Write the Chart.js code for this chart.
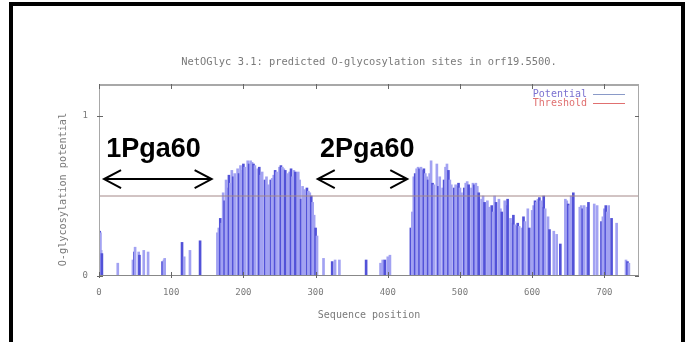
<!DOCTYPE html>
<html>
<head>
<meta charset="utf-8">
<script src="https://cdn.jsdelivr.net/npm/chart.js@4.4.1/dist/chart.umd.min.js"></script>
<style>
  body { margin: 0; background: #fff; }
  #wrap { position: relative; width: 693px; height: 342px; overflow: hidden; }
  #frame { position: absolute; left: 9px; top: 2px; width: 668px; height: 400px; border: 4px solid #000; pointer-events: none; }
</style>
</head>
<body>
<div id="wrap">
  <canvas id="glycoChart" width="693" height="342"></canvas>
  <div id="frame"></div>
</div>
<script>
// sequence positions with a predicted potential
const sitePositions = [
  1, 2, 3, 4, 26, 47, 49, 50, 55, 56, 62, 68, 88, 90, 91, 115, 118, 126, 140,
  164, 166, 168, 170, 172, 174, 176, 178, 180, 182, 184, 186, 188,
  192, 194, 196, 198, 200, 202, 206, 208, 210, 212, 214, 216,
  220, 222, 224, 226, 230, 232, 234, 238, 240, 242, 244, 246,
  250, 252, 254, 256, 258, 262, 264, 266, 268, 270, 272,
  276, 278, 280, 282, 284, 288, 290, 292, 294, 296, 298, 300, 302,
  311, 323, 327, 333, 370, 390, 393, 396, 400, 403,
  432, 434, 436, 438, 440, 442, 444, 446, 448, 450, 452, 454, 456, 458, 460, 462, 464,
  468, 470, 472, 476, 478, 480, 482, 484, 486, 488,
  492, 494, 496, 498, 500, 502, 506, 508, 510, 512,
  516, 518, 520, 522, 524, 526, 530, 532, 534, 538, 540,
  544, 546, 548, 550, 554, 556, 558, 562, 564, 566,
  570, 572, 574, 576, 578, 580, 582, 586, 588, 590, 594, 596,
  600, 602, 604, 606, 608, 610, 612, 614, 616, 618, 622, 624,
  630, 634, 639, 646, 648, 650, 652, 654, 657,
  666, 668, 670, 672, 676, 678, 686, 690,
  696, 698, 700, 702, 704, 706, 710, 717, 730, 732, 734
];
const sitePotentials = [
  0.28, 0.27, 0.16, 0.14, 0.08, 0.10, 0.15, 0.18, 0.15, 0.13, 0.16, 0.15, 0.09, 0.10, 0.11, 0.21, 0.12, 0.16, 0.22,
  0.27, 0.30, 0.36, 0.33, 0.52, 0.47, 0.60, 0.55, 0.63, 0.58, 0.66, 0.62, 0.64,
  0.67, 0.64, 0.69, 0.66, 0.70, 0.68, 0.72, 0.70, 0.72, 0.71, 0.70, 0.69,
  0.67, 0.68, 0.63, 0.65, 0.60, 0.62, 0.57, 0.60, 0.61, 0.63, 0.66, 0.65,
  0.68, 0.69, 0.68, 0.67, 0.66, 0.64, 0.65, 0.67, 0.62, 0.66, 0.65,
  0.65, 0.60, 0.48, 0.56, 0.54, 0.55, 0.53, 0.52, 0.50, 0.46, 0.38, 0.30, 0.25,
  0.11, 0.09, 0.10, 0.10, 0.10, 0.08, 0.10, 0.10, 0.12, 0.13,
  0.30, 0.40, 0.62, 0.64, 0.67, 0.68, 0.67, 0.68, 0.66, 0.67, 0.64, 0.62, 0.60, 0.64, 0.72, 0.58, 0.57,
  0.70, 0.56, 0.62, 0.55, 0.60, 0.68, 0.70, 0.66, 0.60, 0.57,
  0.55, 0.57, 0.56, 0.58, 0.55, 0.52, 0.55, 0.58, 0.59, 0.57,
  0.55, 0.58, 0.57, 0.58, 0.56, 0.52, 0.48, 0.50, 0.46, 0.47, 0.43,
  0.44, 0.40, 0.50, 0.46, 0.48, 0.42, 0.40, 0.47, 0.44, 0.48,
  0.36, 0.33, 0.38, 0.32, 0.31, 0.33, 0.31, 0.30, 0.37, 0.34, 0.42, 0.30,
  0.41, 0.44, 0.47, 0.46, 0.48, 0.49, 0.47, 0.43, 0.50, 0.42, 0.37, 0.29,
  0.28, 0.26, 0.20, 0.48, 0.47, 0.45, 0.44, 0.50, 0.52,
  0.43, 0.44, 0.42, 0.44, 0.43, 0.46, 0.45, 0.44,
  0.34, 0.37, 0.42, 0.44, 0.40, 0.44, 0.36, 0.33, 0.10, 0.09, 0.08
];
const thresholdValue = 0.5;
const seqLength = 748;
const xTickValues = [0, 100, 200, 300, 400, 500, 600, 700];
const yTickValues = [0, 1];

// overlay annotations (regions marked on the plot)
const regionLabels = ["1Pga60", "2Pga60"];
const regionStarts = [7, 303];
const regionEnds = [156, 427];

const chartTitle = "NetOGlyc 3.1: predicted O-glycosylation sites in orf19.5500.";
const yTitle = "O-glycosylation potential";
const grey = "#7a7a7a";
const monoFont = "'DejaVu Sans Mono', monospace";

// gnuplot style box, inner ticks, titles, legend and the hand drawn annotations
const plotExtras = {
  id: "plotExtras",
  afterDraw(chart) {
    const { ctx, chartArea } = chart;
    const xs = chart.scales.x;
    const ys = chart.scales.y;
    ctx.save();
    // box
    ctx.strokeStyle = "#a8a8a8";
    ctx.lineWidth = 1;
    ctx.strokeRect(chartArea.left + 0.5, chartArea.top + 0.5, chartArea.width - 1, chartArea.height - 1);
    ctx.lineWidth = 2;
    ctx.beginPath();
    ctx.moveTo(chartArea.left, chartArea.top + 1);
    ctx.lineTo(chartArea.right, chartArea.top + 1);
    ctx.stroke();
    ctx.strokeStyle = "#888";
    ctx.lineWidth = 1;
    ctx.beginPath();
    ctx.moveTo(chartArea.left, chartArea.bottom - 0.5);
    ctx.lineTo(chartArea.right, chartArea.bottom - 0.5);
    ctx.stroke();
    // ticks
    ctx.strokeStyle = "#666";
    ctx.beginPath();
    xTickValues.forEach((v) => {
      const px = Math.round(xs.getPixelForValue(v)) + 0.5;
      ctx.moveTo(px, chartArea.bottom + 2);
      ctx.lineTo(px, chartArea.bottom - 4);
      ctx.moveTo(px, chartArea.top);
      ctx.lineTo(px, chartArea.top + 5);
    });
    yTickValues.forEach((v) => {
      const py = Math.round(ys.getPixelForValue(v)) + 0.5;
      ctx.moveTo(chartArea.left - 2, py);
      ctx.lineTo(chartArea.left + 4, py);
      ctx.moveTo(chartArea.right - 4, py);
      ctx.lineTo(chartArea.right, py);
    });
    ctx.stroke();
    // titles
    ctx.fillStyle = grey;
    ctx.font = "10.4px " + monoFont;
    ctx.textAlign = "center";
    ctx.textBaseline = "middle";
    ctx.fillText(chartTitle, (chartArea.left + chartArea.right) / 2, chartArea.top - 22);
    ctx.save();
    ctx.translate(chartArea.left - 36, ys.getPixelForValue(0.54));
    ctx.rotate(-Math.PI / 2);
    ctx.font = "10.2px " + monoFont;
    ctx.fillText(yTitle, 0, 0);
    ctx.restore();
    // legend
    ctx.font = "10px " + monoFont;
    ctx.textAlign = "right";
    ctx.textBaseline = "middle";
    const lx = chartArea.right - 52;
    const ly = chartArea.top + 10;
    ctx.fillStyle = "#7a70d0";
    ctx.fillText("Potential", lx, ly);
    ctx.fillStyle = "#e07070";
    ctx.fillText("Threshold", lx, ly + 9);
    ctx.lineWidth = 1;
    ctx.strokeStyle = "#8a9ac8";
    ctx.beginPath();
    ctx.moveTo(lx + 6, ly + 0.5);
    ctx.lineTo(lx + 38, ly + 0.5);
    ctx.stroke();
    ctx.strokeStyle = "#e07070";
    ctx.beginPath();
    ctx.moveTo(lx + 6, ly + 9.5);
    ctx.lineTo(lx + 38, ly + 9.5);
    ctx.stroke();
    // annotations
    ctx.fillStyle = "#000";
    ctx.strokeStyle = "#000";
    ctx.font = "bold 27px 'Liberation Sans', Arial, sans-serif";
    ctx.textAlign = "left";
    ctx.textBaseline = "alphabetic";
    ctx.lineWidth = 2;
    regionLabels.forEach((label, i) => {
      const x1 = xs.getPixelForValue(regionStarts[i]);
      const x2 = xs.getPixelForValue(regionEnds[i]);
      const ay = ys.getPixelForValue(0.606);
      ctx.fillText(label, xs.getPixelForValue(regionStarts[i] + 3), ys.getPixelForValue(0.744));
      ctx.beginPath();
      ctx.moveTo(x1, ay);
      ctx.lineTo(x2, ay);
      ctx.moveTo(x1 + 17, ay - 9);
      ctx.lineTo(x1, ay);
      ctx.lineTo(x1 + 17, ay + 9);
      ctx.moveTo(x2 - 17, ay - 9);
      ctx.lineTo(x2, ay);
      ctx.lineTo(x2 - 17, ay + 9);
      ctx.stroke();
    });
    ctx.restore();
  }
};

const ctx = document.getElementById("glycoChart").getContext("2d");
new Chart(ctx, {
  type: "bar",
  data: {
    datasets: [
      {
        type: "line",
        label: "Threshold",
        data: [
          { x: 0, y: thresholdValue },
          { x: seqLength, y: thresholdValue }
        ],
        borderColor: "#a48888",
        borderWidth: 1,
        pointRadius: 0,
        order: 0
      },
      {
        label: "Potential",
        data: sitePositions.map((p, i) => ({ x: p, y: sitePotentials[i] })),
        backgroundColor: (c) => (c.dataIndex % 3 === 0 ? "#5252d8" : "#a2a2f2"),
        barThickness: 2,
        order: 1
      }
    ]
  },
  options: {
    responsive: false,
    animation: false,
    layout: { padding: { left: 0, right: 54, top: 84, bottom: 0 } },
    scales: {
      x: {
        type: "linear",
        min: 0,
        max: seqLength,
        offset: false,
        afterFit: (scale) => { scale.height = 66; },
        afterBuildTicks: (scale) => { scale.ticks = xTickValues.map((v) => ({ value: v })); },
        grid: { display: false, drawTicks: false, offset: false },
        border: { display: false },
        ticks: { padding: 11, color: grey, font: { family: monoFont, size: 9 }, maxRotation: 0 },
        title: {
          display: true,
          text: "Sequence position",
          color: grey,
          font: { family: monoFont, size: 10 },
          padding: { top: 0, bottom: 21 }
        }
      },
      y: {
        min: 0,
        max: 1.2,
        afterFit: (scale) => { scale.width = 99; },
        afterBuildTicks: (scale) => { scale.ticks = yTickValues.map((v) => ({ value: v })); },
        grid: { display: false, drawTicks: false },
        border: { display: false },
        ticks: { padding: 11, color: grey, font: { family: monoFont, size: 9 } }
      }
    },
    plugins: {
      legend: { display: false },
      tooltip: { enabled: false },
      title: { display: false }
    }
  },
  plugins: [plotExtras]
});
</script>
</body>
</html>
